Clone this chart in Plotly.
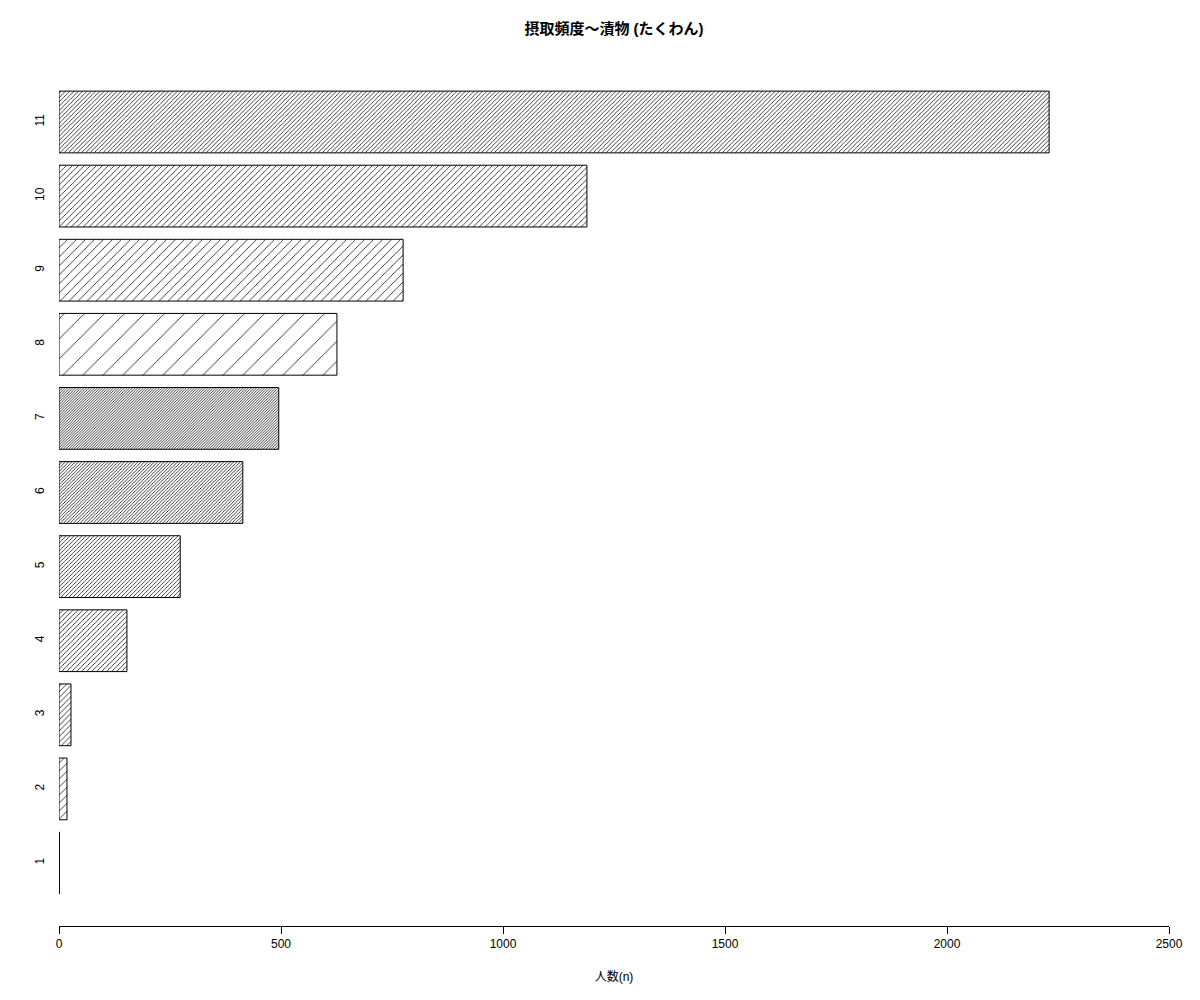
import plotly.graph_objects as go

categories = ["1", "2", "3", "4", "5", "6", "7", "8", "9", "10", "11"]
values = [1, 18, 27, 153, 273, 414, 495, 626, 775, 1189, 2230]
# hatch line spacing (px, horizontal), per bar
hatch_spacing = [6, 8, 5.6, 5, 4, 3.3, 2.7, 20, 9, 6, 4.3]
x_ticks = [0, 500, 1000, 1500, 2000, 2500]

positions = [0.7 + 1.2 * i for i in range(len(categories))]
# plotly's "/" tile gives spacing ~ size*sqrt(2)
tile = [s / 1.414 for s in hatch_spacing]
solidity = [min(0.5, 0.75 / t) for t in tile]

fig = go.Figure()
fig.add_trace(go.Bar(
    x=values,
    y=positions,
    orientation="h",
    width=1.0,
    cliponaxis=False,
    marker=dict(
        color="white",
        line=dict(color="black", width=1),
        pattern=dict(shape="/", size=tile, solidity=solidity,
                     fgcolor="black", fgopacity=1, bgcolor="white",
                     fillmode="replace"),
    ),
    hoverinfo="x+y",
))

font_family = "Liberation Sans, Arial, Noto Sans CJK JP, sans-serif"

fig.update_layout(
    width=1200, height=1000,
    paper_bgcolor="white", plot_bgcolor="white",
    margin=dict(l=51, r=39, t=51, b=82),
    showlegend=False,
    font=dict(family=font_family, size=12, color="black"),
    title=dict(text="<b>摂取頻度～漬物 (たくわん)</b>", x=0.5, xref="paper",
               y=1 - 21 / 1000, yref="container", yanchor="middle",
               xanchor="center", font=dict(size=15, color="black")),
    xaxis=dict(
        range=[0, 2500], tickvals=x_ticks, ticktext=[str(v) for v in x_ticks],
        showline=True, linecolor="black", linewidth=1,
        ticks="outside", ticklen=7, tickcolor="black",
        showgrid=False, zeroline=False,
        title=dict(text="人数(n)", standoff=22, font=dict(size=12)),
        tickfont=dict(size=12),
    ),
    yaxis=dict(
        range=[-0.32, 13.72], tickvals=positions, ticktext=categories,
        tickangle=-90, showline=False, showgrid=False, zeroline=False,
        ticks="", tickfont=dict(size=12), ticklabelstandoff=12,
    ),
)

fig.write_html("out.html")
